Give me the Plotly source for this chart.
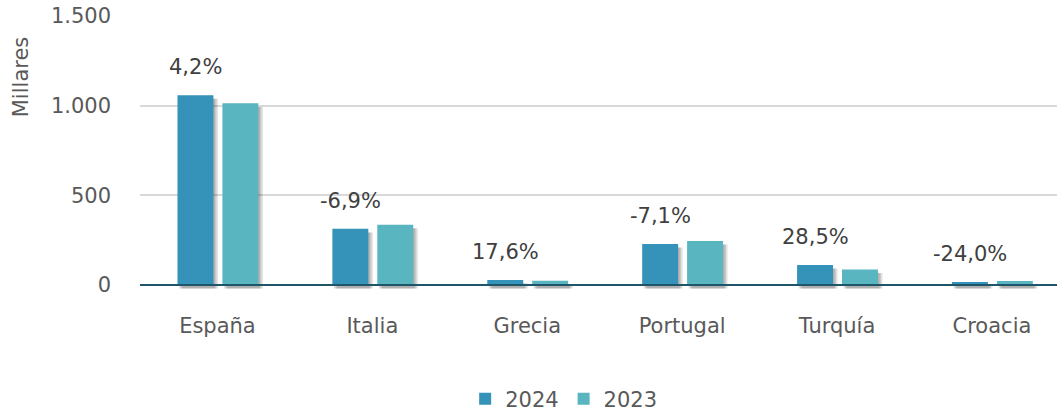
import plotly.graph_objects as go

categories = ["España", "Italia", "Grecia", "Portugal", "Turquía", "Croacia"]
values_2024 = [1058, 313, 28, 229, 112, 17]
values_2023 = [1013, 336, 24, 246, 87, 22]
changes = ["4,2%", "-6,9%", "17,6%", "-7,1%", "28,5%", "-24,0%"]
ytick_vals = [0, 500, 1000, 1500]
ytick_text = ["0", "500", "1.000", "1.500"]

C2024 = "#3592b9"
C2023 = "#59b5bf"
FONT = "DejaVu Sans"
GREY = "#595959"
FS = 21

W = 0.232
OFF24 = -0.258
OFF23 = 0.032

fig = go.Figure()

# soft shadows
for dx, op in [(0.030, 0.10), (0.020, 0.12), (0.010, 0.12)]:
    for vals, off in [(values_2024, OFF24), (values_2023, OFF23)]:
        fig.add_trace(go.Bar(
            x=categories, y=vals, base=[-20] * len(vals), width=W, offset=off + dx,
            marker=dict(color=f"rgba(0,0,0,{op})", line=dict(width=0)),
            showlegend=False, hoverinfo="skip"))

fig.add_trace(go.Bar(x=categories, y=values_2024, name="2024", width=W, offset=OFF24,
                     marker=dict(color=C2024, line=dict(width=0))))
fig.add_trace(go.Bar(x=categories, y=values_2023, name="2023", width=W, offset=OFF23,
                     marker=dict(color=C2023, line=dict(width=0))))

for cat, v, t in zip(categories, values_2024, changes):
    fig.add_annotation(x=cat, y=v, text=t, showarrow=False, xref="x", yref="y",
                       xshift=-22, yshift=28, yanchor="middle",
                       font=dict(family=FONT, size=FS, color="#404040"))

fig.add_annotation(text="Millares", xref="paper", yref="paper", x=-0.1295, y=0.779,
                   textangle=-90, showarrow=False, xanchor="center", yanchor="middle",
                   font=dict(family=FONT, size=FS, color=GREY))

fig.update_layout(
    width=1059, height=412,
    margin=dict(l=140, r=2, t=16, b=120, autoexpand=False),
    paper_bgcolor="white", plot_bgcolor="white",
    barmode="overlay",
    font=dict(family=FONT, size=FS, color=GREY),
    legend=dict(orientation="h", x=0.462, xanchor="center", y=-0.388, yanchor="middle",
                font=dict(family=FONT, size=FS, color=GREY), traceorder="normal",
                itemwidth=30),
    xaxis=dict(range=[-0.5, 5.42], showgrid=False, showline=False, zeroline=False,
               automargin=False,
               ticks="", ticklabelstandoff=19, tickfont=dict(size=FS, color=GREY)),
    yaxis=dict(range=[-39, 1500], tickvals=ytick_vals, ticktext=ytick_text,
               automargin=False,
               showgrid=True, gridcolor="#d9d9d9", gridwidth=1.5,
               zeroline=False, showline=False, ticks="", ticklabelstandoff=28,
               tickfont=dict(size=FS, color=GREY)),
    shapes=[dict(type="line", xref="paper", yref="y", x0=0, x1=1, y0=0, y1=0,
                 line=dict(color="#1f5568", width=2))],
)

fig.write_html("out.html", config={"displayModeBar": False},
               post_script="document.body.style.margin='0';document.body.style.overflow='hidden';")
